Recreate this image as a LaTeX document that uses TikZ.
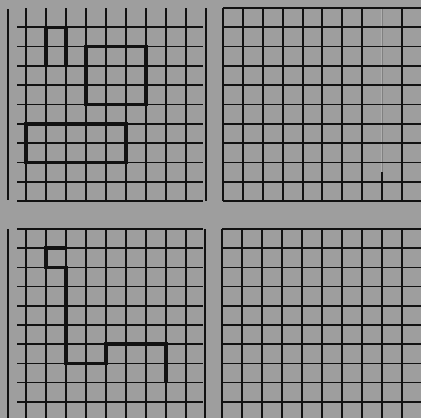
\documentclass[tikz,border=0pt]{standalone}
\definecolor{paper}{RGB}{158,158,158}
\definecolor{ink}{RGB}{18,18,18}
\definecolor{faintink}{RGB}{175,175,175}
\definecolor{faintcore}{RGB}{128,128,128}
\begin{document}
\begin{tikzpicture}[x=1pt,y=-1pt,
  gridline/.style={ink, line width=1.7pt},
  faintline/.style={faintink, line width=2.4pt},
  faintcoreline/.style={faintcore, line width=0.8pt},
  boldline/.style={ink, line width=3.6pt, line join=miter}]
\fill[paper] (0,0) rectangle (421,418);
\useasboundingbox (0,0) rectangle (421,418);
\clip (0,0) rectangle (421,418);
% ---------- top-left grid ----------
\foreach \k in {1,...,10} \draw[gridline] (17,{8+19.3*\k}) -- (203,{8+19.3*\k});
\foreach \x in {26,46,...,186} \draw[gridline] (\x,8) -- (\x,201);
\draw[gridline] (8,9) -- (8,200);
\draw[gridline] (206,8) -- (206,201);
% thick figures
\draw[boldline] (46,66) -- (46,27.3) -- (66,27.3) -- (66,66);
\draw[boldline] (86,46.6) rectangle (146,104.5);
\draw[boldline] (26,124) rectangle (126,162.4);
% ---------- top-right grid ----------
\draw[faintline] (382,8) -- (382,172);
\draw[faintcoreline] (382.4,8) -- (382.4,172);
\foreach \k in {0,...,10} \draw[gridline] (223,{8+19.3*\k}) -- (421,{8+19.3*\k});
\foreach \x in {223,243,263,283,303,322,342,362,402} \draw[gridline] (\x,8) -- (\x,201);
\draw[gridline] (382,172) -- (382,201);
% ---------- bottom-left grid ----------
\foreach \k in {0,...,9} \draw[gridline] (17,{229+19.2*\k}) -- (203,{229+19.2*\k});
\foreach \x in {26,46,...,186} \draw[gridline] (\x,229) -- (\x,418);
\draw[gridline] (8,229) -- (8,418);
\draw[gridline] (205,229) -- (205,418);
\draw[boldline] (66,248.2) -- (46,248.2) -- (46,267.4) -- (66,267.4) -- (66,363.4)
  -- (106,363.4) -- (106,344.2) -- (166,344.2) -- (166,382.6);
% ---------- bottom-right grid ----------
\foreach \k in {0,...,9} \draw[gridline] (222,{229+19.2*\k}) -- (421,{229+19.2*\k});
\foreach \x in {222,242,...,402} \draw[gridline] (\x,229) -- (\x,418);
\end{tikzpicture}
\end{document}
